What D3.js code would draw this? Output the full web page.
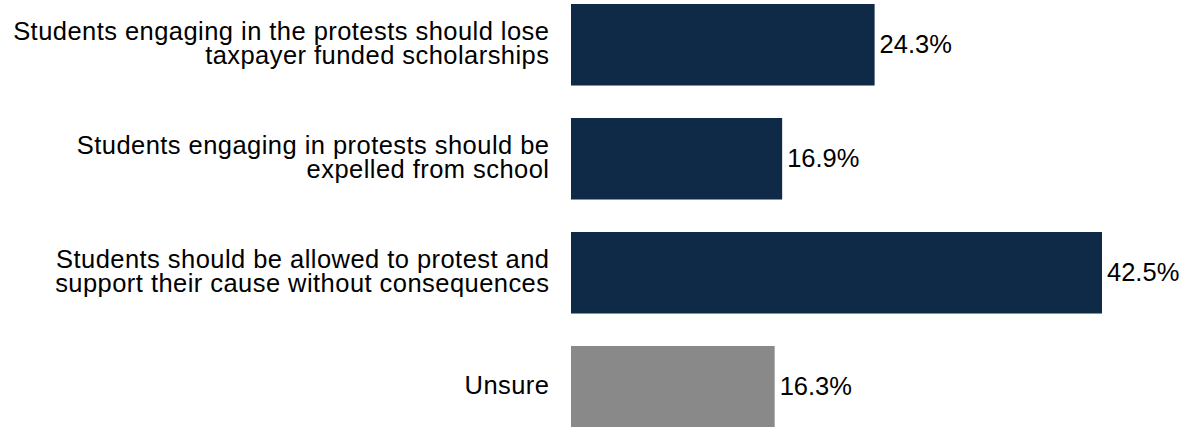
<!DOCTYPE html>
<html>
<head>
<meta charset="utf-8">
<script src="https://cdn.jsdelivr.net/npm/d3@7"></script>
<style>
  html, body { margin: 0; padding: 0; background: #ffffff; }
  svg { display: block; }
  text { font-family: "Liberation Sans", Arial, sans-serif; fill: #000; }
</style>
</head>
<body>
<svg id="chart" width="1185" height="427"></svg>
<script>
const categories = [
  ["Students engaging in the protests should lose", "taxpayer funded scholarships"],
  ["Students engaging in protests should be", "expelled from school"],
  ["Students should be allowed to protest and", "support their cause without consequences"],
  ["Unsure"]
];
const values = [24.3, 16.9, 42.5, 16.3];
const valueLabels = ["24.3%", "16.9%", "42.5%", "16.3%"];
const barColors = ["#0e2a46", "#0e2a46", "#0e2a46", "#898989"];

const svg = d3.select("#chart");
const x0 = 571, fontSize = 25.5, lineGap = 24;

const x = d3.scaleLinear().domain([0, 42.5]).range([x0, 1102]);
const y = d3.scaleBand().domain(d3.range(categories.length))
  .range([4, 427.5]).paddingInner(0.285).paddingOuter(0);

svg.selectAll("rect.bar").data(values).join("rect")
  .attr("class", "bar")
  .attr("x", x(0))
  .attr("y", (d, i) => y(i))
  .attr("width", d => x(d) - x(0))
  .attr("height", y.bandwidth())
  .attr("fill", (d, i) => barColors[i]);

svg.selectAll("text.val").data(values).join("text")
  .attr("class", "val")
  .attr("x", d => x(d) + 5)
  .attr("y", (d, i) => y(i) + y.bandwidth() / 2)
  .attr("dy", "0.335em")
  .style("font-size", fontSize + "px")
  .text((d, i) => valueLabels[i]);

const lbl = svg.selectAll("text.lbl").data(categories).join("text")
  .attr("class", "lbl")
  .attr("text-anchor", "end")
  .style("font-size", fontSize + "px")
  .style("letter-spacing", "0.45px");
lbl.each(function(lines, i) {
  const c = y(i) + y.bandwidth() / 2;
  d3.select(this).selectAll("tspan").data(lines).join("tspan")
    .attr("x", x0 - 22 + 0.45)
    .attr("y", (l, j) => c + (j - (lines.length - 1) / 2) * lineGap)
    .attr("dy", lines.length > 1 ? "0.27em" : "0.3em")
    .text(l => l);
});
</script>
</body>
</html>
